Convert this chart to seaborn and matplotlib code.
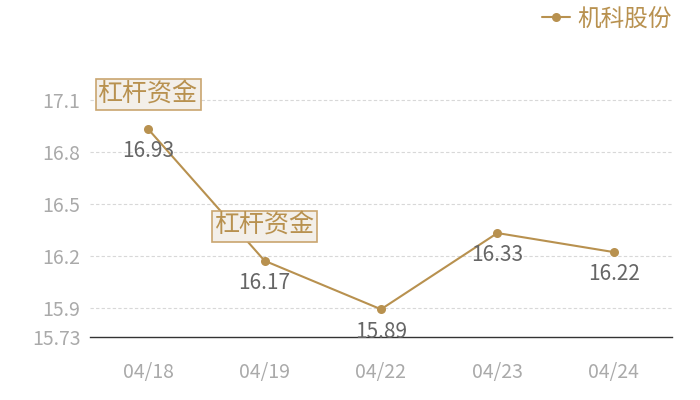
import matplotlib
matplotlib.use("Agg")
import matplotlib.pyplot as plt
import seaborn as sns
import pandas as pd

dates = ["04/18", "04/19", "04/22", "04/23", "04/24"]
prices = [16.93, 16.17, 15.89, 16.33, 16.22]
series_name = "机科股份"
annot_idx = [0, 1]
annot_text = "杠杆资金"
yticks = [15.73, 15.9, 16.2, 16.5, 16.8, 17.1]

sns.set_theme(style="white")
plt.rcParams['font.family'] = ['Noto Sans CJK SC', 'DejaVu Sans']

gold = "#b8914f"
df = pd.DataFrame({"date": dates, "price": prices, "series": series_name})

fig = plt.figure(figsize=(7, 4), dpi=100)
ax = fig.add_axes([90/700, 1-337/400, (672-90)/700, (337-65)/400])

sns.lineplot(data=df, x="date", y="price", hue="series", palette=[gold],
             marker="o", markersize=6.5, markeredgewidth=0, linewidth=1.5,
             sort=False, ax=ax)

ax.set_xlim(-0.5, len(dates) - 0.5)
ax.set_ylim(15.73, 17.3)
ax.set_yticks(yticks)
ax.set_yticklabels([f"{v:g}" for v in yticks])
for v in yticks[1:]:
    ax.axhline(v, color="#d8d8d8", lw=0.8, ls=(0, (3, 2)), zorder=0)

for s in ["top", "right", "left"]:
    ax.spines[s].set_visible(False)
ax.spines["bottom"].set_color("#333333")
ax.spines["bottom"].set_linewidth(1)
ax.tick_params(axis="both", length=0, colors="#aaaaaa", labelsize=14)
ax.tick_params(axis="x", pad=18)
ax.tick_params(axis="y", pad=7)
ax.set_xlabel("")
ax.set_ylabel("")

for i, (d, p) in enumerate(zip(dates, prices)):
    ax.annotate(f"{p:.2f}", (i, p), xytext=(0, -16), textcoords="offset points",
                ha="center", va="center", fontsize=15, color="#666666")

for i in annot_idx:
    ax.annotate(annot_text, (i, prices[i]), xytext=(0, 25), textcoords="offset points",
                ha="center", va="center", fontsize=18, color=gold,
                bbox=dict(boxstyle="square,pad=0.1", fc="#f3efe9", ec="#c9a56f", lw=1.2))

ax.legend_.remove()
h, l = ax.get_legend_handles_labels()
fig.legend(h, l, loc="upper right", bbox_to_anchor=(0.99, 1.035), frameon=False,
           fontsize=17, labelcolor=gold, handlelength=1.2, handletextpad=0.3)

fig.savefig("out.png", dpi=100)
